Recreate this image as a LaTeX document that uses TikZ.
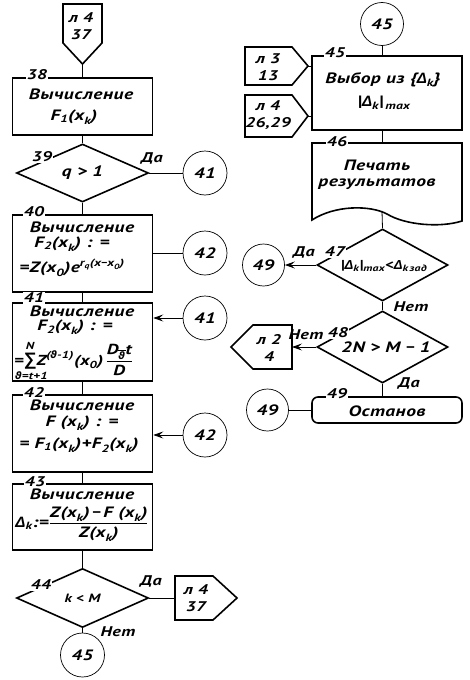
\documentclass[tikz,border=0pt]{standalone}
\usepackage{fontspec}
\usepackage{amsmath}
\setmainfont{PT Sans}[FakeStretch=1.3,LetterSpace=3]
\newfontfamily\gr{Liberation Sans}
\newfontfamily\dv{DejaVu Sans}
\usetikzlibrary{shapes.geometric,arrows.meta}
\newcommand\tx[1]{\text{#1}}
\newcommand\Dl{{\gr\bfseries\itshape Δ}}
\newcommand\vt{{\dv\bfseries\itshape ϑ}}
\newcommand\mn{{\gr\bfseries\itshape −}}
\begin{document}
\begin{tikzpicture}[x=1pt,y=-1pt,
  every node/.style={font=\bfseries\itshape\fontsize{15}{17}\selectfont},
  box/.style={draw,line width=1.6pt,minimum width=140pt,inner sep=0pt},
  dia/.style={draw,diamond,line width=1.6pt,inner sep=0pt},
  circ/.style={draw,circle,line width=0.7pt,minimum size=44pt,inner sep=0pt,font=\bfseries\itshape\fontsize{15}{16}\selectfont},
  thickp/.style={line width=1.6pt,line join=miter},
  con/.style={line width=0.8pt},
  arr/.style={line width=0.8pt,-{Stealth[length=10pt,width=7pt,inset=4pt]}},
  num/.style={fill=white,inner sep=1pt,font=\bfseries\itshape\fontsize{14}{14}\selectfont},
  lab/.style={inner sep=0pt,font=\bfseries\itshape\fontsize{14}{14}\selectfont},
  txt/.style={inner sep=0pt},
  otxt/.style={inner sep=0pt,align=center,font=\bfseries\itshape\fontsize{14}{17}\selectfont}
]
\useasboundingbox (0,0) rectangle (470,680);
\fill[white] (0,0) rectangle (470,680);

% ---------- left column ----------
% top off-page connector
\coordinate (o1p) at (82.5,64);
\draw[thickp] (63,4) -- (102,4) -- (102,43) -- (o1p) -- (63,43) -- cycle;
\node[otxt] (o1t) at (81,26) {л 4\\37};

\node[box,minimum height=57pt] (b38) at (82.5,106.5) {};
\node[txt] (t38a) at (81,94) {Вычисление};
\node[txt] (t38b) at (74,117) {$\tx{F}_{\tx{1}}\tx{(x}_{\tx{k}}\tx{)}$};
\node[num] (n38) at (37,75) {38};

\node[dia,minimum width=132pt,minimum height=58pt] (d39) at (82.5,173) {};
\node[txt] (t39) at (82.5,173) {q > 1};
\node[num] (n39) at (42,157) {39};
\node[lab] (l39) at (152,158) {Да};
\node[circ] (c41a) at (205,173) {41};

\node[box,minimum height=77pt] (b40) at (82.5,253.5) {};
\node[txt] (t40a) at (82,227) {Вычисление};
\node[txt] (t40b) at (72,244) {$\tx{F}_{\tx{2}}\tx{(x}_{\tx{k}}\tx{) : =}$};
\node[txt] (t40c) at (72,268) {$\tx{=Z(x}_{\tx{0}}\tx{)e}^{\tx{r}_{\tx{q}}\tx{(x\mn x}_{\tx{0}}\tx{)}}$};
\node[num] (n40) at (34,212) {40};
\node[circ] (c42a) at (205,253) {42};

\node[box,minimum height=78pt] (b41) at (82.5,342) {};
\node[txt] (t41a) at (82,311) {Вычисление};
\node[txt] (t41b) at (75,327.5) {$\tx{F}_{\tx{2}}\tx{(x}_{\tx{k}}\tx{) : =}$};
\node[txt,font=\bfseries\itshape\fontsize{14.5}{16}\selectfont,anchor=west] (t41c) at (14,361) {$\tx{=}\!\mathop{\tx{\gr\bfseries\itshape\fontsize{18}{18}\selectfont ∑}}\limits_{\makebox[0pt][l]{\hspace{-3pt}$\scriptstyle\tx{\vt=t+1}$}}^{\tx{N}}\!\tx{Z}^{\tx{(\vt-1)}}\tx{(x}_{\tx{0}}\tx{)}\,\dfrac{\tx{D}_{\overline{\tx{\vt}}}\tx{t}}{\tx{D}}$};
\node[num] (n41) at (34,298) {41};
\node[circ] (c41b) at (205,318) {41};

\node[box,minimum height=77pt] (b42) at (82.5,433.5) {};
\node[txt] (t42a) at (82,405) {Вычисление};
\node[txt] (t42b) at (82,423) {$\tx{F (x}_{\tx{k}}\tx{) : =}$};
\node[txt] (t42c) at (79,445) {$\tx{= F}_{\tx{1}}\tx{(x}_{\tx{k}}\tx{)+F}_{\tx{2}}\tx{(x}_{\tx{k}}\tx{)}$};
\node[num] (n42) at (34,392) {42};
\node[circ] (c42b) at (205,435) {42};

\node[box,minimum height=66pt] (b43) at (82.5,517) {};
\node[txt] (t43a) at (82,494.5) {Вычисление};
\node[txt] (t43b) at (82,524) {$\tx{\Dl}_{\tx{k}}\tx{:=}\dfrac{\tx{Z(x}_{\tx{k}}\tx{)\,\mn\,F (x}_{\tx{k}}\tx{)}}{\tx{Z(x}_{\tx{k}}\tx{)}}$};
\node[num] (n43) at (35,482) {43};

\node[dia,minimum width=132pt,minimum height=59pt] (d44) at (82.5,598) {};
\node[txt,font=\bfseries\itshape\fontsize{12}{14}\selectfont] (t44) at (82.5,598) {k < M};
\node[num] (n44) at (41,585) {44};
\node[lab] (l44a) at (151,581) {Да};
\node[lab] (l44b) at (118,632) {Нет};
\coordinate (o2l) at (175,598);
\draw[thickp] (175,576) -- (213,576) -- (237,598) -- (213,620) -- (175,620) -- cycle;
\node[otxt] (o2t) at (196,598) {л 4\\37};
\node[circ] (c45a) at (82.5,655) {45};

% connectors left
\draw[con] (o1p) -- (b38.north);
\draw[con] (b38.south) -- (d39.north);
\draw[con] (d39.east) -- (c41a.west);
\draw[con] (d39.south) -- (b40.north);
\draw[con] (b40.east |- c42a) -- (c42a.west);
\draw[con] (b40.south) -- (b41.north);
\draw[arr] (c41b.west) -- (b41.east |- c41b);
\draw[con] (b41.south) -- (b42.north);
\draw[arr] (c42b.west) -- (b42.east |- c42b);
\draw[con] (b42.south) -- (b43.north);
\draw[con] (b43.south) -- (d44.north);
\draw[con] (d44.east) -- (o2l);
\draw[con] (d44.south) -- (c45a.north);

% ---------- right column ----------
\node[circ,minimum size=43pt] (c45b) at (382,24) {45};
\node[box,minimum width=150pt,minimum height=74pt] (b45) at (387,93) {};
\node[txt] (t45a) at (383,80) {Выбор из \{$\tx{\Dl}_{\tx{k}}$\}};
\node[txt] (t45b) at (384,103) {$\tx{|\Dl}_{\tx{k}}\tx{|}_{\,\tx{max}}$};
\node[num] (n45) at (335,53) {45};

\coordinate (o3p) at (308,66);
\draw[thickp] (245,47) -- (292,47) -- (o3p) -- (292,85) -- (245,85) -- cycle;
\node[otxt] (o3t) at (268,67) {л 3\\13};
\coordinate (o4p) at (308,116);
\draw[thickp] (245,95) -- (292,95) -- (o4p) -- (292,137) -- (245,137) -- cycle;
\node[otxt] (o4t) at (268,115) {л 4\\26,29};

\draw[thickp] (312,143) -- (462,143) -- (462,221) .. controls (440,228) and (405,225) .. (387,214) .. controls (370,205) and (335,205) .. (312,220) -- cycle;
\coordinate (doc46) at (382,211);
\node[txt] (t46a) at (377,165) {Печать};
\node[txt] (t46b) at (377,184) {результатов};
\node[num] (n46) at (337,142) {46};

\node[dia,minimum width=131pt,minimum height=72pt] (d47) at (382.5,265) {};
\node[txt,font=\bfseries\itshape\fontsize{13}{14}\selectfont] (t47) at (384,266) {$\tx{|\Dl}_{\tx{k}}\tx{|}_{\tx{max}}\tx{<\Dl}_{\tx{k\,зад}}$};
\node[num] (n47) at (335,252) {47};
\node[lab] (l47a) at (304,252) {Да};
\node[lab] (l47b) at (411,307) {Нет};
\node[circ,minimum size=42pt] (c49a) at (263.5,265) {49};

\node[dia,minimum width=131pt,minimum height=72pt] (d48) at (382.5,347) {};
\node[txt,font=\bfseries\itshape\fontsize{15}{16}\selectfont] (t48) at (386,347) {2N > M \mn\ 1};
\node[num] (n48) at (338,333) {48};
\node[lab] (l48a) at (306,335) {Нет};
\node[lab] (l48b) at (409,383) {Да};
\coordinate (o5r) at (292,347);
\draw[thickp] (292,325) -- (292,369) -- (253,369) -- (231,347) -- (253,325) -- cycle;
\node[otxt] (o5t) at (269,348) {л 2\\4};

\node[draw,line width=1.6pt,rounded corners=6pt,minimum width=150pt,minimum height=26pt,inner sep=0pt] (b49) at (387,410) {};
\node[txt] (t49) at (387,411) {Останов};
\node[num] (n49) at (337,394) {49};
\node[circ,minimum size=42pt] (c49b) at (267.5,410) {49};

% connectors right
\draw[con] (c45b.south) -- (c45b |- b45.north);
\draw[con] (o3p) -- (b45.west |- o3p);
\draw[con] (o4p) -- (b45.west |- o4p);
\draw[con] (c45b |- b45.south) -- (382,143);
\draw[con] (doc46) -- (d47.north);
\draw[arr] (d47.west) -- (c49a.east);
\draw[con] (d47.south) -- (d48.north);
\draw[arr] (d48.west) -- (o5r);
\draw[con] (d48.south) -- (d48.south |- b49.north);
\draw[con] (c49b.east) -- (b49.west);
\end{tikzpicture}
\end{document}
